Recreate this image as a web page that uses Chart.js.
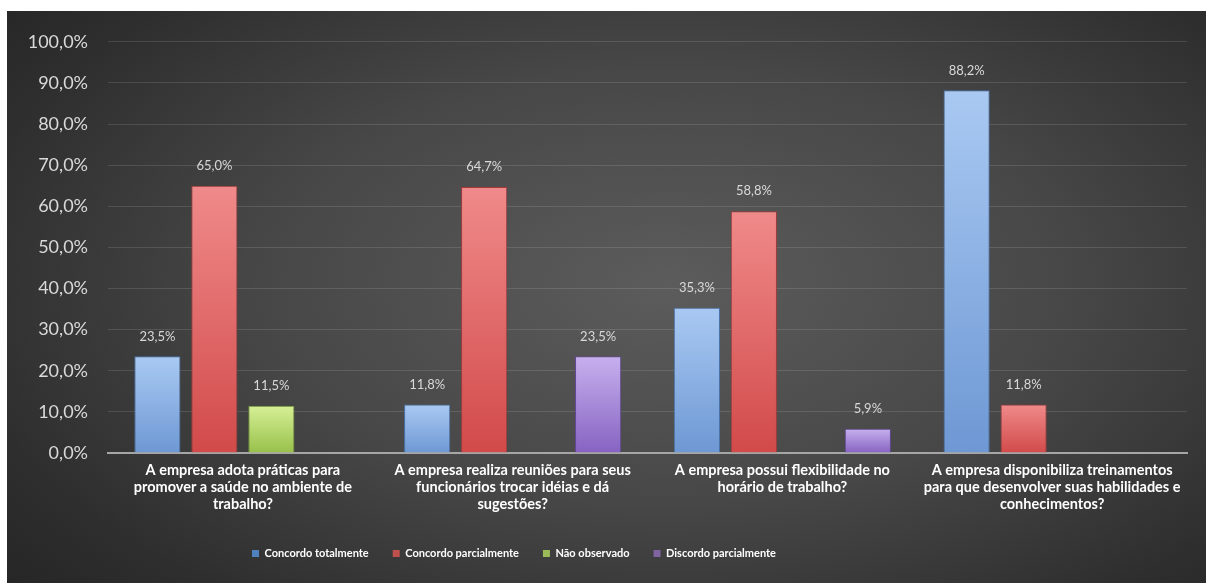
<!DOCTYPE html>
<html lang="pt">
<head>
  <meta charset="UTF-8" />
  <title>Práticas da empresa</title>
  <script src="https://cdn.jsdelivr.net/npm/chart.js"></script>
  <style>
    * { box-sizing: border-box; }
    body {
      margin: 0;
      background: #ffffff;
      width: 1206px;
      height: 583px;
      overflow: hidden;
    }
    .panel {
      position: absolute;
      left: 7px;
      top: 11px;
      width: 1199px;
      height: 572px;
      background: radial-gradient(ellipse 75% 85% at 55% 48%, #5c5c5c 0%, #474747 45%, #2e2e2e 80%, #242424 100%);
    }
    canvas { display: block; }
  </style>
</head>
<body>
  <div class="panel">
    <canvas id="chart" width="1199" height="572"></canvas>
  </div>

  <script>
    const categories = [
      ['A empresa adota práticas para', 'promover a saúde no ambiente de', 'trabalho?'],
      ['A empresa realiza reuniões para seus', 'funcionários trocar idéias e dá', 'sugestões?'],
      ['A empresa possui flexibilidade no', 'horário de trabalho?'],
      ['A empresa disponibiliza treinamentos', 'para que desenvolver suas habilidades e', 'conhecimentos?']
    ];
    const seriesNames = ['Concordo totalmente', 'Concordo parcialmente', 'Não observado', 'Discordo parcialmente'];
    const concordoTotalmente = [23.5, 11.8, 35.3, 88.2];
    const concordoParcialmente = [65.0, 64.7, 58.8, 11.8];
    const naoObservado = [11.5, 0, 0, 0];
    const discordoParcialmente = [0, 23.5, 5.9, 0];
    const yTicks = [0, 10, 20, 30, 40, 50, 60, 70, 80, 90, 100];

    // light top / darker bottom for each series, plus legend swatch colour
    const barTop = ['#a9c9f2', '#f08a8a', '#d6f096', '#c7b0ee'];
    const barBottom = ['#6e98d4', '#d24a4a', '#98c04a', '#8663c2'];
    const barEdge = ['#4a74ad', '#a53a3a', '#76973a', '#624896'];
    const legendColors = ['#4f81bd', '#c0504d', '#9bbb59', '#8064a2'];

    const fmt = v => v.toFixed(1).replace('.', ',') + '%';

    const gradientFill = (i) => (ctx) => {
      const chart = ctx.chart;
      const y = chart.scales.y;
      if (!chart.chartArea || !y || ctx.raw == null) return barBottom[i];
      const top = y.getPixelForValue(ctx.raw);
      const base = y.getPixelForValue(0);
      if (!isFinite(top) || base - top < 1) return barBottom[i];
      const g = chart.ctx.createLinearGradient(0, top, 0, base);
      g.addColorStop(0, barTop[i]);
      g.addColorStop(1, barBottom[i]);
      return g;
    };

    const valueLabels = {
      id: 'valueLabels',
      afterDatasetsDraw(chart) {
        const c = chart.ctx;
        c.save();
        c.font = '13px Lato, "Open Sans", sans-serif';
        c.fillStyle = '#d9d9d9';
        c.textAlign = 'center';
        c.textBaseline = 'middle';
        chart.data.datasets.forEach((ds, i) => {
          const meta = chart.getDatasetMeta(i);
          meta.data.forEach((bar, j) => {
            const v = ds.data[j];
            if (!v) return;
            c.fillText(fmt(v), bar.x, bar.y - 20);
          });
        });
        c.restore();
      }
    };

    // the legend sits a bit left of centre in the original
    const shiftLegend = {
      id: 'shiftLegend',
      afterLayout(chart) {
        chart.legend.left -= 83;
        chart.legend.right -= 83;
      }
    };

    const allSeries = [concordoTotalmente, concordoParcialmente, naoObservado, discordoParcialmente];

    new Chart(document.getElementById('chart'), {
      type: 'bar',
      data: {
        labels: categories,
        datasets: allSeries.map((data, i) => ({
          label: seriesNames[i],
          data: data,
          backgroundColor: gradientFill(i),
          borderColor: barEdge[i],
          borderWidth: 1,
          categoryPercentage: 0.845,
          barPercentage: 0.81
        }))
      },
      options: {
        responsive: false,
        animation: false,
        layout: { padding: { top: 26, right: 19, bottom: 14, left: 0 } },
        scales: {
          y: {
            min: 0,
            max: 100,
            afterBuildTicks: axis => { axis.ticks = yTicks.map(v => ({ value: v })); },
            afterFit: axis => { axis.width = 101; },
            ticks: {
              color: '#d9d9d9',
              font: { family: 'Lato, "Open Sans", sans-serif', size: 18 },
              padding: 20,
              callback: v => fmt(v)
            },
            grid: { color: 'rgba(255,255,255,0.12)', lineWidth: 1, drawTicks: false },
            border: { display: false }
          },
          x: {
            afterFit: axis => { axis.height = 71; },
            ticks: {
              color: '#ffffff',
              font: { family: 'Lato, "Open Sans", sans-serif', size: 14.5, weight: 'bold', lineHeight: 1.17 },
              padding: 9,
              maxRotation: 0,
              autoSkip: false
            },
            grid: { display: false, drawTicks: false },
            border: { display: true, color: '#a6a6a6', width: 2 }
          }
        },
        plugins: {
          legend: {
            position: 'bottom',
            labels: {
              color: '#ffffff',
              font: { family: 'Lato, "Open Sans", sans-serif', size: 11, weight: 'bold' },
              boxWidth: 7,
              boxHeight: 7,
              padding: 24,
              generateLabels: chart => chart.data.datasets.map((ds, i) => ({
                text: ds.label,
                fillStyle: legendColors[i],
                strokeStyle: legendColors[i],
                lineWidth: 0,
                fontColor: '#ffffff',
                datasetIndex: i,
                hidden: false
              }))
            }
          },
          tooltip: { enabled: false }
        }
      },
      plugins: [valueLabels, shiftLegend]
    });
  </script>
</body>
</html>
